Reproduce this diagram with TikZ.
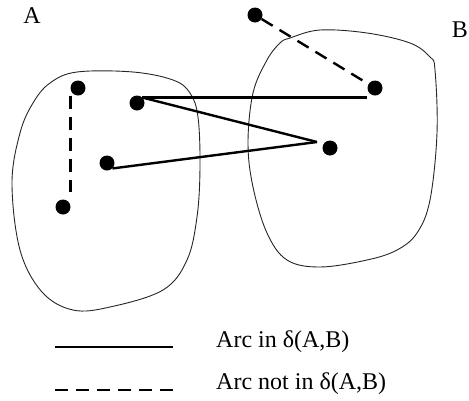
\documentclass[tikz,border=0pt]{standalone}
\usepackage{fontspec}
\setmainfont{Liberation Serif}
\usepackage{tikz}
\usetikzlibrary{positioning,calc}
\tikzset{
  cut dot/.style={
    circle,
    inner sep=0pt,
    minimum size=15pt,
    fill=black,
  },
  cut arc/.style={line width=2.4pt},
  cut nonarc/.style={line width=2.4pt, dash pattern=on 13pt off 8pt},
  cut set/.style={line width=0.9pt, draw=black!85},
  cut label/.style={font=\fontsize{24}{28}\selectfont, inner sep=0pt},
}

\begin{document}
\begin{tikzpicture}[x=1pt,y=-1pt]
  \useasboundingbox (0,0) rectangle (469,400);

  % the two sets
  \draw[cut set] plot[smooth cycle, tension=0.6] coordinates {
    (50,83) (77,72) (133,72) (173,80) (190,93) (198,117) (200,167)
    (197,217) (187,260) (163,290) (110,307) (73,310) (42,292)
    (20,250) (12,183) (20,133) (33,103)};
  \draw[cut set] plot[smooth cycle, tension=0.6] coordinates {
    (290,38) (320,30) (367,33) (410,43) (430,57) (435,70) (437,133)
    (430,200) (417,233) (397,250) (367,260) (320,267) (287,260)
    (267,233) (253,187) (248,143) (253,93) (267,60) (280,43)};
  \node[cut label,anchor=base] (A) at (32,23) {A};
  \node[cut label,anchor=base] (B) at (460,37) {B};

  % nodes
  \node[cut dot] (top) at (255,15) {};
  \node[cut dot] (b1) at (375,88) {};
  \node[cut dot] (b2) at (330,148) {};
  \node[cut dot] (a1) at (78,88) {};
  \node[cut dot] (a2) at (137,103) {};
  \node[cut dot] (a3) at (107,163) {};
  \node[cut dot] (a4) at (63,207) {};
  \coordinate (tip) at ([xshift=-13pt,yshift=6pt]b2.center);

  % arcs
  \draw[cut arc] (a2.45) -- (a2.45 -| b1.west);
  \draw[cut arc] (a2.45) -- (tip);
  \draw[cut arc] (a3.south east) -- (tip);
  \draw[cut nonarc,shorten >=4pt] (top) -- (b1);
  \draw[cut nonarc,shorten >=7pt] (a1.west |- a1.south) -- (a1.west |- a4.north);

  % legend
  \coordinate (l1) at (55,347);
  \coordinate (l2) at (173,347);
  \coordinate (l3) at (55,390);
  \coordinate (l4) at (173,390);
  \draw[cut arc] (l1) -- (l2);
  \draw[cut nonarc] (l3) -- (l4);
  \node[cut label,anchor=base west] (in) at ([xshift=43pt]l2) {Arc in δ(A,B)};
  \node[cut label,anchor=base west] (notin) at ([xshift=43pt,yshift=1pt]l4) {Arc not in δ(A,B)};
\end{tikzpicture}
\end{document}
